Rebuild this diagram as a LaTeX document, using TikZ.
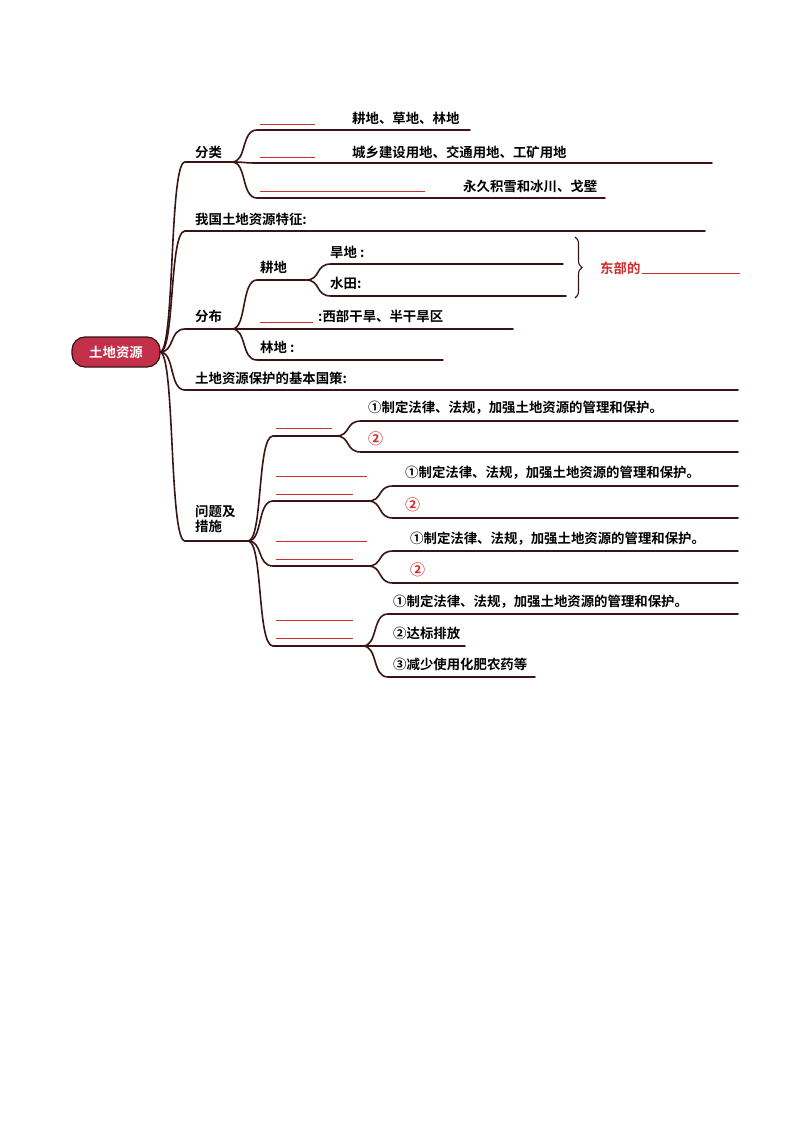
\documentclass[tikz,border=0pt]{standalone}
\usepackage{fontspec}
\setmainfont{Noto Sans CJK SC}[BoldFont={* Bold}]
\usetikzlibrary{decorations.pathreplacing}
\newcommand\brc[4]{\draw[br] (#1,#2) .. controls ({#1+15},#2) and ({#1+9},#3) .. ({#1+25},#3) -- (#4,#3);}
\begin{document}
\begin{tikzpicture}[x=1pt,y=-1pt,
  br/.style={draw=brn,line width=1.6pt,line cap=round},
  redl/.style={draw=redc,line width=0.8pt},
  lab/.style={anchor=west,inner sep=0pt,font=\fontsize{13.4}{15}\selectfont\bfseries,text=black},
  rlab/.style={lab,text=redc},
  circ/.style={rlab,font=\fontsize{15}{15}\selectfont\bfseries}]
\definecolor{brn}{HTML}{3A1414}
\definecolor{redc}{HTML}{D22B2B}
\definecolor{rootc}{HTML}{C3304A}
\useasboundingbox (0,0) rectangle (794,1123);
\node[fill=rootc,draw=brn,line width=1.2pt,rounded corners=13pt,minimum width=88pt,minimum height=30pt,text=white,font=\fontsize{13.4}{15}\selectfont\bfseries] (root) at (116,352) {土地资源};
% level 1
\brc{160}{352}{162}{232}
\brc{160}{352}{231}{705}
\brc{160}{352}{329}{232}
\brc{160}{352}{390}{738}
\brc{160}{352}{541}{248}
\node[lab] (fl) at (195,152) {分类};
\node[lab] (tz) at (195,219) {我国土地资源特征:};
\node[lab] (fb) at (195,316) {分布};
\node[lab] (gc) at (195,378) {土地资源保护的基本国策:};
\node[lab,align=left] (wt) at (195,519) {问题及\\措施};
% 分类
\brc{232}{162}{130}{470}
\brc{232}{162}{163}{712}
\brc{232}{162}{198}{605}
\draw[redl] (260,124) -- (315,124);
\draw[redl] (260,157) -- (315,157);
\draw[redl] (260,191) -- (425,191);
\node[lab] (a1) at (352,118) {耕地、草地、林地};
\node[lab] (a2) at (352,152) {城乡建设用地、交通用地、工矿用地};
\node[lab] (a3) at (463,186) {永久积雪和冰川、戈壁};
% 分布
\brc{232}{329}{280}{308}
\brc{232}{329}{329}{513}
\brc{232}{329}{360}{443}
\node[lab] (gd) at (260,267) {耕地};
\brc{306}{280}{264}{563}
\brc{306}{280}{296}{566}
\node[lab] (hd) at (330,252) {旱地 :};
\node[lab] (st) at (330,283) {水田:};
\draw[brn,line width=1.1pt,decorate,decoration={brace,amplitude=7pt}] (575,237) -- (575,298);
\node[rlab] (db) at (600,268) {东部的};
\draw[redl] (642,273) -- (740,273);
\draw[redl] (260,322) -- (313,322);
\node[lab] (xb) at (318,316) {:西部干旱、半干旱区};
\node[lab] (ld) at (260,347) {林地 :};
% 问题及措施
\brc{248}{541}{436}{338}
\brc{248}{541}{501}{370}
\brc{248}{541}{566}{370}
\brc{248}{541}{646}{380}
\draw[redl] (276,428) -- (332,428);
\draw[redl] (276,476) -- (367,476);
\draw[redl] (276,494) -- (353,494);
\draw[redl] (276,541) -- (367,541);
\draw[redl] (276,559) -- (353,559);
\draw[redl] (276,620) -- (353,620);
\draw[redl] (276,638) -- (353,638);
\brc{336}{436}{421}{738}
\brc{336}{436}{452}{738}
\node[lab] (p1) at (368,408) {①制定法律、法规，加强土地资源的管理和保护。};
\node[circ] (q1) at (368,439) {②};
\brc{368}{501}{486}{738}
\brc{368}{501}{518}{738}
\node[lab] (p2) at (405,473) {①制定法律、法规，加强土地资源的管理和保护。};
\node[circ] (q2) at (405,505) {②};
\brc{368}{566}{551}{738}
\brc{368}{566}{583}{738}
\node[lab] (p3) at (410,539) {①制定法律、法规，加强土地资源的管理和保护。};
\node[circ] (q3) at (410,570) {②};
\brc{363}{646}{614}{738}
\brc{363}{646}{646}{465}
\brc{363}{646}{677}{535}
\node[lab] (p4) at (393,602) {①制定法律、法规，加强土地资源的管理和保护。};
\node[lab] (p5) at (393,633) {②达标排放};
\node[lab] (p6) at (393,664) {③减少使用化肥农药等};
\end{tikzpicture}
\end{document}
